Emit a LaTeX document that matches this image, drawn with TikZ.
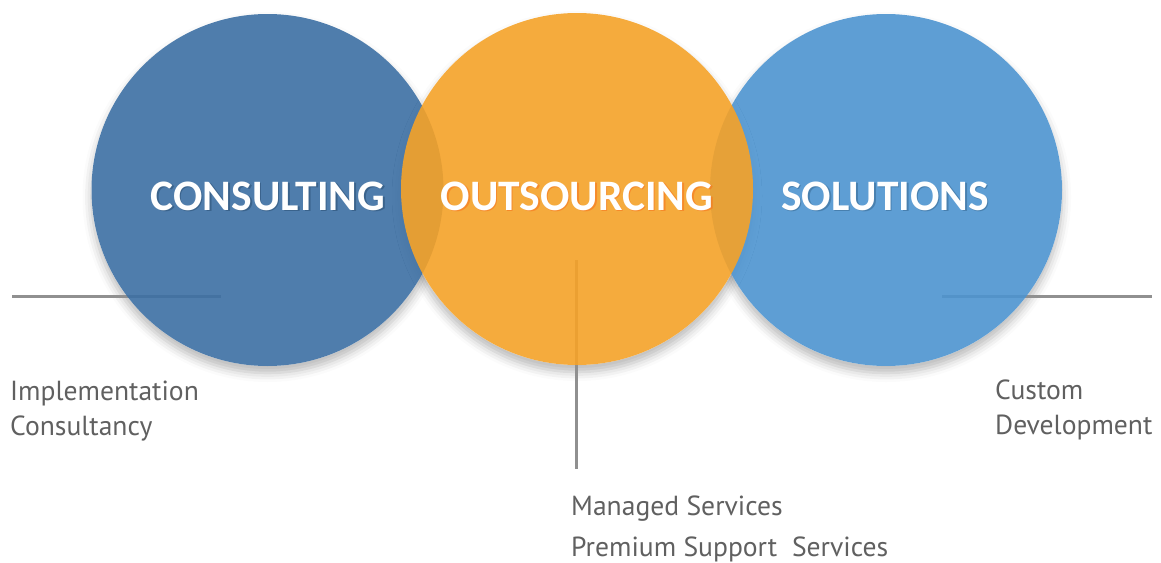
\documentclass[tikz,border=0pt]{standalone}
\usepackage{fontspec}
\setmainfont{PT Sans}
\newfontfamily\headfont{Carlito}
\usetikzlibrary{shadows.blur}
\definecolor{cLeft}{HTML}{3C6FA3}
\definecolor{cMid}{HTML}{F5A228}
\definecolor{cRight}{HTML}{4D94D0}
\definecolor{lineGray}{HTML}{909090}
\definecolor{textGray}{HTML}{606060}
\tikzset{
  bubble/.style={circle, minimum size=352pt, inner sep=0pt, fill opacity=0.9},
  bubbleshadow/.style={circle, minimum size=352pt, inner sep=0pt, fill=white,
    blur shadow={shadow xshift=0pt, shadow yshift=-7pt, shadow blur radius=9pt, shadow opacity=28}},
  leader/.style={draw=lineGray, line width=3pt},
  head/.style={font=\headfont\bfseries\fontsize{43.5}{48}\selectfont, text=white, inner sep=0pt},
  headshade/.style={font=\headfont\bfseries\fontsize{43.5}{48}\selectfont, inner sep=0pt, opacity=0.55},
  label/.style={font=\fontsize{27.6}{30}\selectfont, text=textGray, inner sep=0pt, anchor=base west},
}
\begin{document}
\begin{tikzpicture}[x=1pt,y=-1pt]
\useasboundingbox (0,0) rectangle (1161,562);
% shadows and white bases
\node[bubbleshadow] (sl) at (267.5,190) {};
\node[bubbleshadow] (sr) at (886,190) {};
\node[bubbleshadow] (sm) at (577,189) {};
% leader lines
\coordinate (l1a) at (12,296);
\coordinate (l1b) at (221,296);
\coordinate (l2a) at (576,260);
\coordinate (l2b) at (576,469);
\coordinate (l3a) at (942,296);
\coordinate (l3b) at (1152,296);
\draw[leader] (l1a) -- (l1b);
\draw[leader] (l2a) -- (l2b);
\draw[leader] (l3a) -- (l3b);
% circles
\node[bubble, fill=cLeft] (consult) at (267.5,190) {};
\node[bubble, fill=cRight] (solut) at (886,190) {};
\node[bubble, fill=cMid] (outs) at (577,189) {};
% titles
\node[headshade, text=cLeft!70!black] at (269.5,197.5) {CONSULTING};
\node[head] (t1) at (268,196) {CONSULTING};
\node[headshade, text=cMid!70!red] at (578.5,197.5) {OUTSOURCING};
\node[head] (t2) at (577,196) {OUTSOURCING};
\node[headshade, text=cRight!70!black] at (886.5,197.5) {SOLUTIONS};
\node[head] (t3) at (885,196) {SOLUTIONS};
% labels
\node[label] (a1) at (10,400) {Implementation};
\node[label] (a2) at (10,435) {Consultancy};
\node[label] (b1) at (571,515) {Managed Services};
\node[label] (b2) at (571,556) {Premium Support\ \ Services};
\node[label] (c1) at (995,399) {Custom};
\node[label] (c2) at (995,434) {Development};
\end{tikzpicture}
\end{document}
